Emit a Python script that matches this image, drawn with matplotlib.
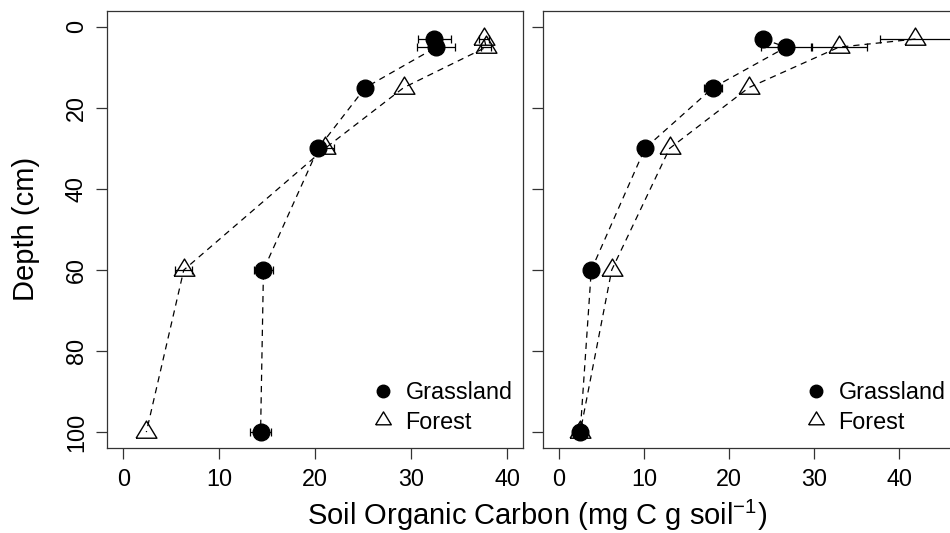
import numpy as np
import matplotlib
matplotlib.use("Agg")
import matplotlib.pyplot as plt

plt.rcParams['font.family'] = ['Liberation Sans', 'DejaVu Sans']
plt.rcParams['mathtext.default'] = 'regular'

# depths (cm)
depth = [3, 5, 15, 30, 60, 100]

# left panel
left_grass = [32.4, 32.6, 25.2, 20.3, 14.6, 14.3]
left_grass_err = [1.7, 2.0, 0.4, 0.5, 0.95, 1.1]
left_forest = [37.6, 37.8, 29.2, 21.0, 6.3, 2.4]
left_forest_err = [0.5, 0.5, 0.0, 0.9, 0.9, 0.0]

# right panel
right_grass = [24.0, 26.7, 18.1, 10.1, 3.8, 2.5]
right_grass_err = [0.3, 3.0, 1.1, 0.3, 0.3, 0.3]
right_forest = [41.9, 32.9, 22.3, 13.0, 6.2, 2.5]
right_forest_err = [4.2, 3.3, 0.0, 0.0, 0.0, 0.0]

W, H = 950, 533
fig = plt.figure(figsize=(W / 100, H / 100), dpi=100)

# R-like triangle (pch = 2)
tri = [(-1, -0.55), (1, -0.55), (0, 1.1), (-1, -0.55)]

FS = 16.8


def errbars(ax, x, e):
    # only draw bars that have a width
    x, e, d = np.array(x), np.array(e), np.array(depth)
    k = e > 0
    ax.errorbar(x[k], d[k], xerr=e[k], fmt='none', ecolor='black',
                elinewidth=0.9, capsize=3.2, capthick=0.9, zorder=2)


def panel(ax, g, ge, f, fe, xlim, ylabels=True):
    errbars(ax, g, ge)
    errbars(ax, f, fe)
    ax.plot(g, depth, color='black', lw=0.9, dashes=(5, 4), zorder=1)
    ax.plot(f, depth, color='black', lw=0.9, dashes=(5, 4), zorder=1)
    ax.plot(g, depth, ls='none', marker='o', ms=12, color='black',
            label='Grassland', zorder=3)
    ax.plot(f, depth, ls='none', marker=tri, ms=16.5, mfc='none', mec='black',
            mew=1.0, label='Forest', zorder=3)
    ax.set_xlim(*xlim)
    ax.set_ylim(104, -4)
    ax.set_xticks([0, 10, 20, 30, 40])
    ax.set_yticks([0, 20, 40, 60, 80, 100])
    ax.tick_params(labelsize=FS, length=8, width=0.9, color='#333333')
    ax.tick_params(axis='x', pad=6)
    ax.tick_params(axis='y', pad=6, labelleft=ylabels)
    for lab in ax.get_yticklabels():
        lab.set_rotation(90)
        lab.set_va('center')
    for s in ax.spines.values():
        s.set_linewidth(0.9)
        s.set_color('#333333')


ax1 = fig.add_axes([107.3 / W, (H - 448.3) / H, 416 / W, 437.6 / H])
panel(ax1, left_grass, left_grass_err, left_forest, left_forest_err,
      (-1.667, 41.667))
ax2 = fig.add_axes([543.3 / W, (H - 448.3) / H, (966 - 543.3) / W, 437.6 / H])
panel(ax2, right_grass, right_grass_err, right_forest, right_forest_err,
      (-1.84, 47.84), ylabels=False)

for ax, x0 in [(ax1, 374), (ax2, 807)]:
    ax.legend(loc='upper left', bbox_to_anchor=(x0 / W, (H - 381) / H),
              bbox_transform=fig.transFigure, frameon=False, fontsize=FS,
              handlelength=0.8, handletextpad=0.55, borderpad=0, borderaxespad=0,
              labelspacing=0.28, markerscale=0.75)

fig.text(537.5 / W, 8 / H, r'Soil Organic Carbon (mg C g soil$^{-1}$)',
         ha='center', va='baseline', fontsize=21)
fig.text(26 / W, (H - 229) / H, 'Depth (cm)', rotation=90, ha='center',
         va='center', fontsize=21)

fig.savefig('out.png', dpi=100)
